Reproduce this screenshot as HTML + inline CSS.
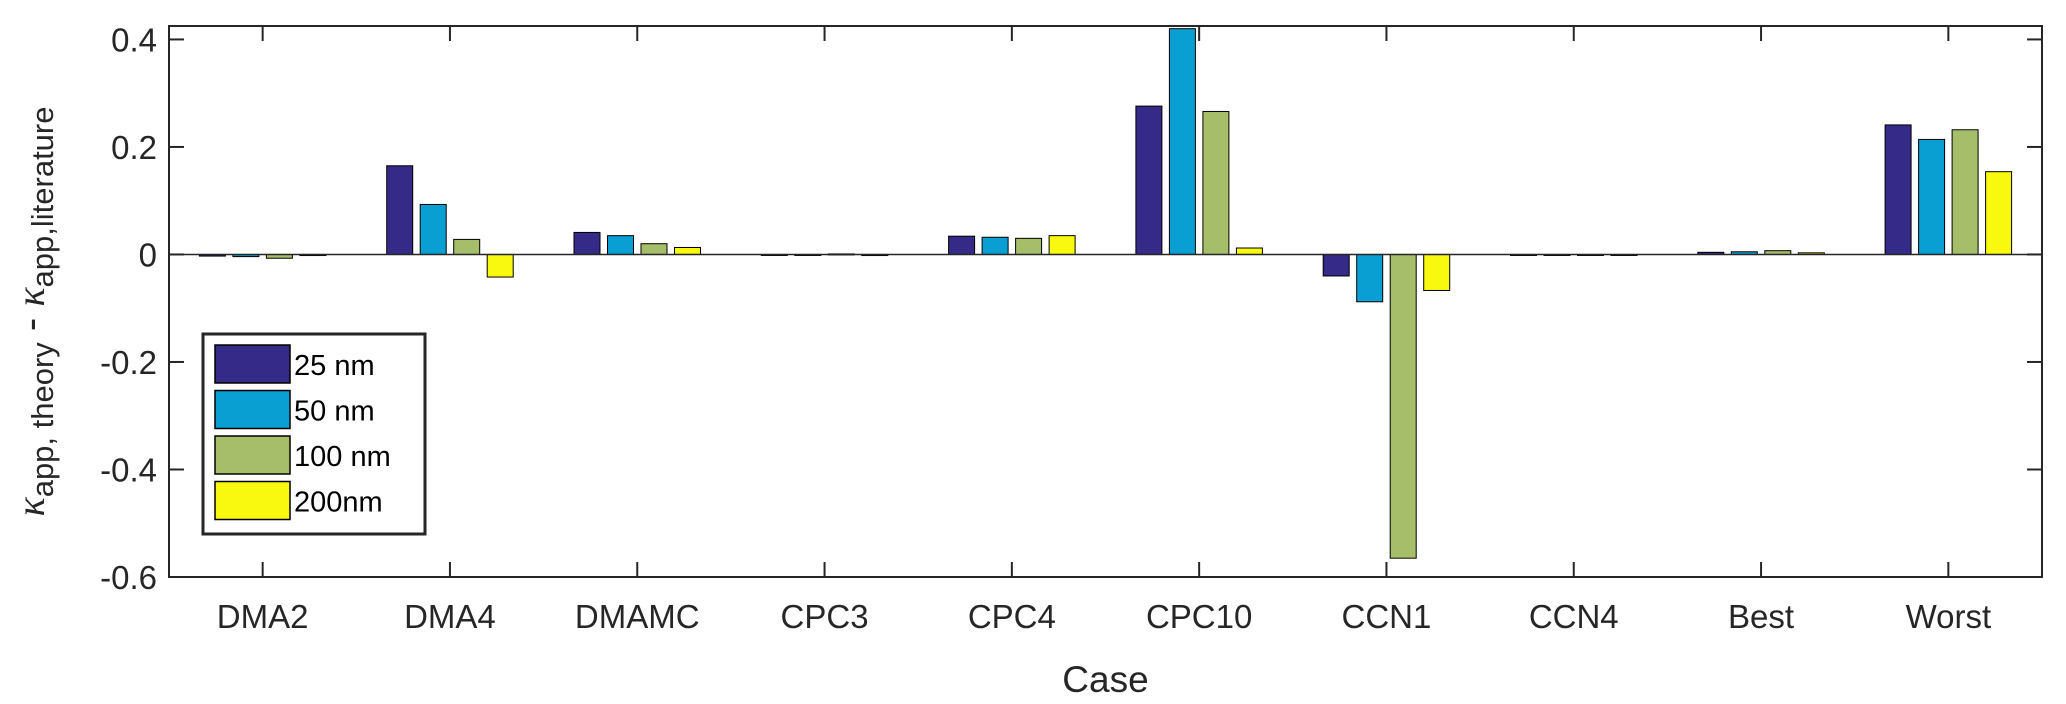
<!DOCTYPE html>
<html><head><meta charset="utf-8"><style>
html,body{margin:0;padding:0;background:#fff;}
svg{display:block;font-family:"Liberation Sans",Arial,sans-serif;}
</style></head><body>
<svg id="chart" width="2066" height="704" viewBox="0 0 2066 704">
<rect x="0" y="0" width="2066" height="704" fill="#fff"/>
<g id="marks"></g>
<g id="axes"></g>
</svg>
<script>
const categories = ["DMA2","DMA4","DMAMC","CPC3","CPC4","CPC10","CCN1","CCN4","Best","Worst"];
const seriesNames = ["25 nm","50 nm","100 nm","200nm"];
const s25 = [-0.003,0.165,0.041,-0.001,0.034,0.276,-0.040,-0.001,0.004,0.241];
const s50 = [-0.004,0.093,0.035,-0.001,0.032,0.420,-0.088,-0.001,0.005,0.214];
const s100 = [-0.007,0.028,0.020,0.001,0.030,0.266,-0.565,-0.001,0.007,0.232];
const s200 = [-0.002,-0.042,0.013,-0.002,0.035,0.012,-0.067,-0.001,0.003,0.154];
const yTicks = [-0.6,-0.4,-0.2,0,0.2,0.4];
const yTickLabels = ["-0.6","-0.4","-0.2","0","0.2","0.4"];
const colors = ["#352a87","#0a9fd3","#a6be6a","#f8f90f"];
const series = [s25,s50,s100,s200];

const L=169,R=2042,T=26,B=577;
const ymin=-0.6,ymax=0.425;
const y=v=>B-(v-ymin)/(ymax-ymin)*(B-T);
const band=(R-L)/categories.length;
const x=i=>L+band*(i+0.5);
const pitch=33.5,bw=26;
const NS="http://www.w3.org/2000/svg";
function mk(tag,attrs,parent){const e=document.createElementNS(NS,tag);for(const k in attrs)e.setAttribute(k,attrs[k]);parent.appendChild(e);return e;}
const marks=document.getElementById('marks'), axes=document.getElementById('axes');

series.forEach((s,si)=>{
  s.forEach((v,i)=>{
    const cx=x(i)+(si-1.5)*pitch;
    const y0=y(0),y1=y(v);
    const r=mk('rect',{x:cx-bw/2,y:Math.min(y0,y1),width:bw,height:Math.max(Math.abs(y1-y0),1),fill:colors[si],stroke:'#000','stroke-width':1},marks);
    
    
  });
});
const zl=mk('line',{x1:L,x2:R,y1:y(0),y2:y(0),stroke:'#262626','stroke-width':1.5},axes);


const box=mk('rect',{x:L,y:T,width:R-L,height:B-T,fill:'none',stroke:'#262626','stroke-width':2},axes);


yTicks.forEach((v,i)=>{
  mk('line',{x1:L,x2:L+15,y1:y(v),y2:y(v),stroke:'#262626','stroke-width':2},axes);
  mk('line',{x1:R,x2:R-15,y1:y(v),y2:y(v),stroke:'#262626','stroke-width':2},axes);
  const t=mk('text',{x:L-12,y:y(v)+12,'text-anchor':'end','font-size':33,fill:'#262626'},axes);
  t.textContent=yTickLabels[i];
  
  
});
categories.forEach((c,i)=>{
  mk('line',{x1:x(i),x2:x(i),y1:B,y2:B-15,stroke:'#262626','stroke-width':2},axes);
  mk('line',{x1:x(i),x2:x(i),y1:T,y2:T+15,stroke:'#262626','stroke-width':2},axes);
  const t=mk('text',{x:x(i),y:B+51,'text-anchor':'middle','font-size':33,fill:'#262626'},axes);
  t.textContent=c;
  
  
});
const xt=mk('text',{x:(L+R)/2,y:B+115,'text-anchor':'middle','font-size':37,fill:'#262626'},axes);
xt.textContent='Case';


const yt=mk('text',{transform:'translate(44,'+((T+B)/2+10)+') rotate(-90)','text-anchor':'middle','font-size':40,fill:'#262626'},axes);


yt.innerHTML='<tspan font-style="italic" font-family="Liberation Serif,serif">κ</tspan><tspan font-size="31" dy="9">app, theory</tspan><tspan dy="-9"> - </tspan><tspan font-style="italic" font-family="Liberation Serif,serif">κ</tspan><tspan font-size="31" dy="9">app,literature</tspan>';
const lg=mk('g',{},axes);


mk('rect',{x:203,y:334,width:222,height:200,fill:'#fff',stroke:'#262626','stroke-width':3},lg);
seriesNames.forEach((n,i)=>{
  const g=mk('g',{},lg);
  
  
  const yy=345+i*45.5;
  mk('rect',{x:215,y:yy,width:75,height:38,fill:colors[i],stroke:'#000','stroke-width':1.5},g);
  const t=mk('text',{x:294,y:yy+30,'font-size':29,fill:'#000'},g);
  t.textContent=n;
});
</script>
</body></html>
